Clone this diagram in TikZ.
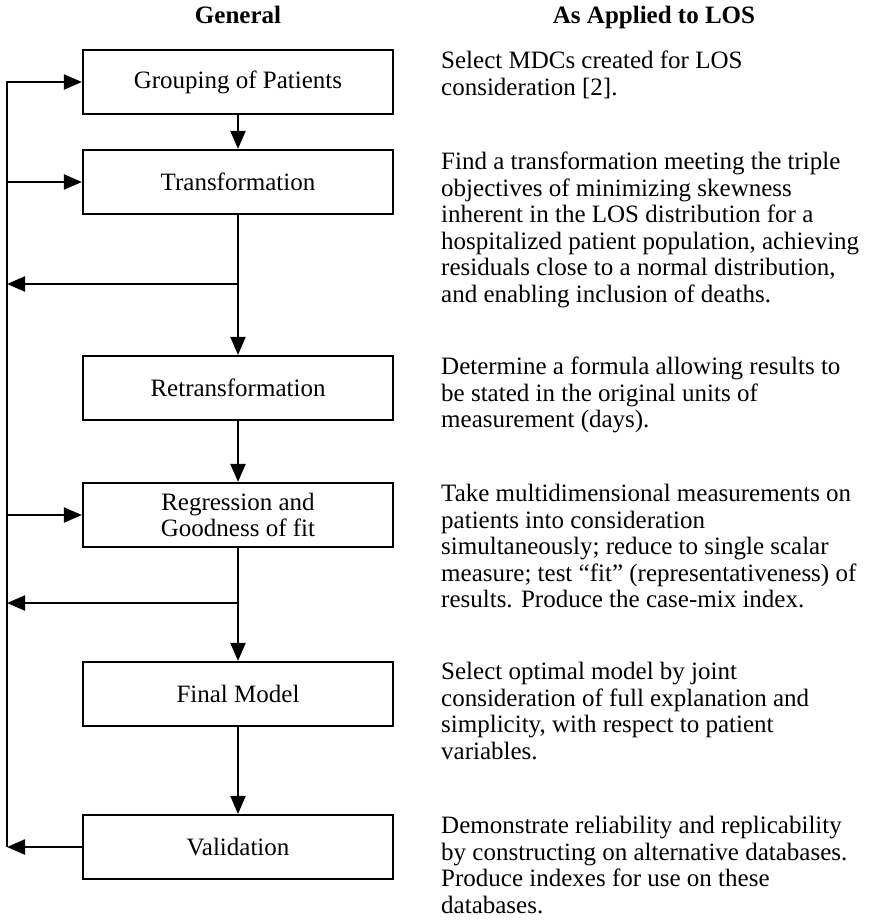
\documentclass[tikz,border=0pt]{standalone}
\usepackage{fontspec}
\setmainfont{Liberation Serif}
\usetikzlibrary{arrows.meta}

\begin{document}
\begin{tikzpicture}[x=1pt, y=-1pt,
    font=\fontsize{25}{26.5}\selectfont,
    stage/.style={draw, line width=2.2pt, minimum width=310pt, minimum height=64pt, align=center, inner sep=0pt},
    flow/.style={line width=2.2pt, -{Triangle[length=18pt,width=15pt]}},
    note/.style={anchor=north west, inner sep=0pt, align=left},
    head/.style={anchor=base, inner sep=0pt, font=\fontsize{25}{26.5}\selectfont\bfseries}]
          \useasboundingbox (0,0) rectangle (876,920);

          \node[head] (hgen) at (238,24) {General};
          \node[head] (hlos) at (654,24) {As Applied to LOS};

          \node[stage] (group)   at (238,82)  {Grouping of Patients};
          \node[stage] (trans)   at (238,182) {Transformation};
          \node[stage] (retrans) at (238,388) {Retransformation};
          \node[stage] (reg)     at (238,515) {Regression and\\Goodness of fit};
          \node[stage] (final)   at (238,694) {Final Model};
          \node[stage] (valid)   at (238,847) {Validation};

          \coordinate (bustop) at (7,82);
          \coordinate (fbtrans) at (238,284);
          \coordinate (fbreg) at (238,603);

          % main flow
          \draw[flow] (group) -- (trans);
          \draw[flow] (trans) -- (retrans);
          \draw[flow] (retrans) -- (reg);
          \draw[flow] (reg) -- (final);
          \draw[flow] (final) -- (valid);

          % feedback loop on the left
          \draw[flow] (valid.west -| bustop) -- (bustop) -- (group.west);
          \draw[flow] (trans.west -| bustop) -- (trans.west);
          \draw[flow] (reg.west -| bustop) -- (reg.west);
          \draw[flow] (fbtrans) -- (fbtrans -| bustop);
          \draw[flow] (fbreg) -- (fbreg -| bustop);
          \draw[flow] (valid.west) -- (valid.west -| bustop);

          \node[note] (ngroup) at (441,51) {Select MDCs created for LOS\\consideration [2].};
          \node[note] (ntrans) at (441,152) {Find a transformation meeting the triple\\objectives of minimizing skewness\\inherent in the LOS distribution for a\\hospitalized patient population, achieving\\residuals close to a normal distribution,\\and enabling inclusion of deaths.};
          \node[note] (nretrans) at (441,357) {Determine a formula allowing results to\\be stated in the original units of\\measurement (days).};
          \node[note] (nreg) at (441,484) {Take multidimensional measurements on\\patients into consideration\\simultaneously; reduce to single scalar\\measure; test ``fit'' (representativeness) of\\results. Produce the case-mix index.};
          \node[note] (nfinal) at (441,662) {Select optimal model by joint\\consideration of full explanation and\\simplicity, with respect to patient\\variables.};
          \node[note] (nvalid) at (441,816) {Demonstrate reliability and replicability\\by constructing on alternative databases.\\Produce indexes for use on these\\databases.};
        \end{tikzpicture}
\end{document}
